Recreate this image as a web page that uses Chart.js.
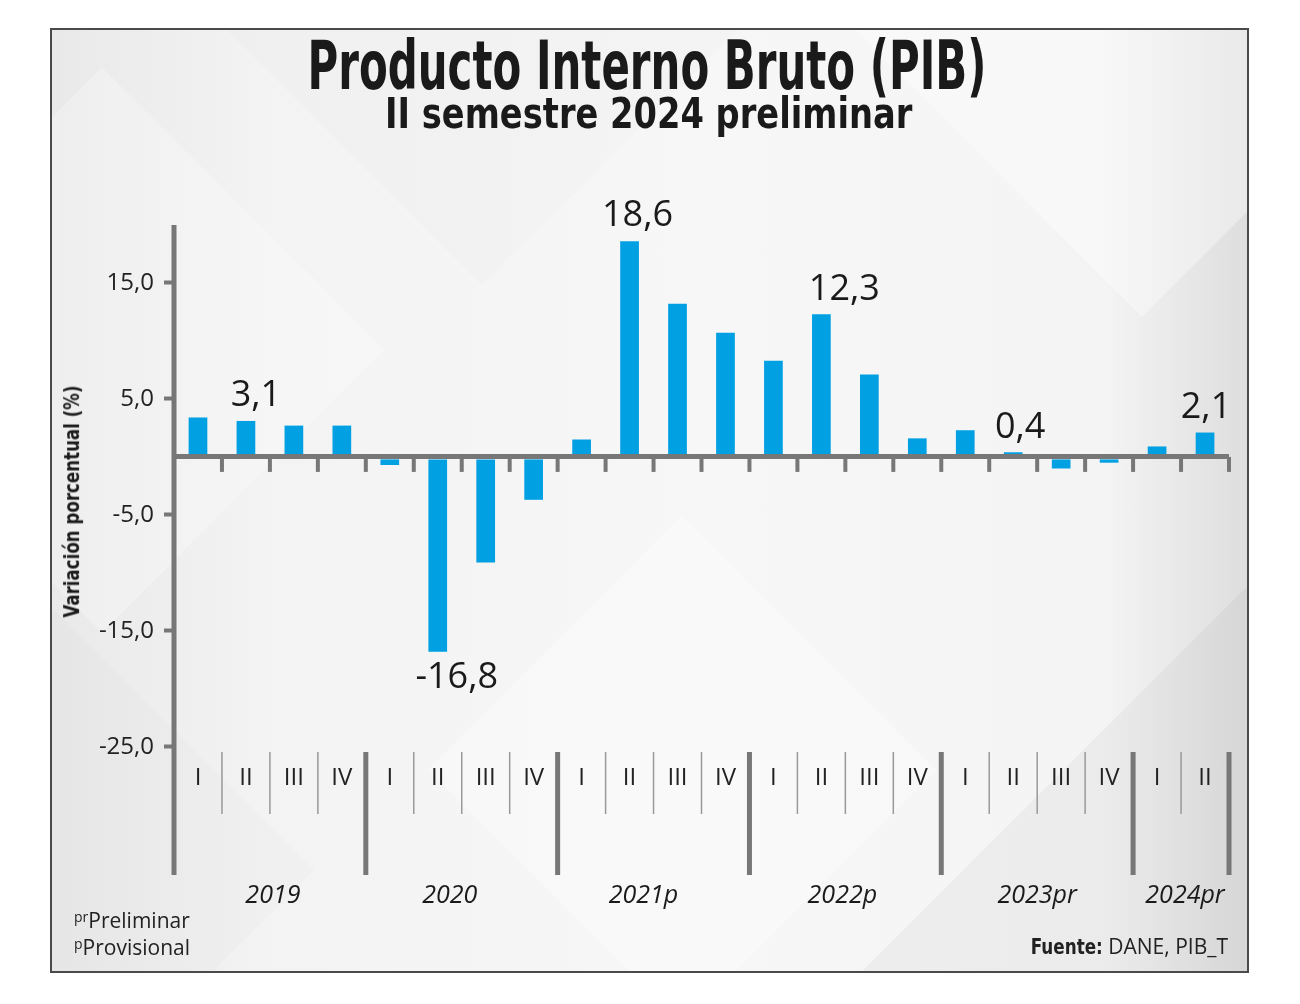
<!DOCTYPE html>
<html lang="es">
<head>
<meta charset="utf-8">
<title>PIB II semestre 2024</title>
<script src="https://cdn.jsdelivr.net/npm/chart.js@4.4.1/dist/chart.umd.min.js"></script>
<style>
  body { margin: 0; background: #fff; }
  #wrap { position: relative; width: 1300px; height: 1004px; overflow: hidden; }
  #marco {
    position: absolute; left: 50px; top: 28px; width: 1195px; height: 941px;
    border: 2px solid #4a4a4a; overflow: hidden;
    background:
      linear-gradient(135deg, rgba(255,255,255,0) 82%, rgba(0,0,0,0.035) 82%),
      linear-gradient(90deg, #e9e9e9 0%, #f3f3f3 18%, #f7f7f7 55%, #f4f4f4 88%, #dedede 100%);
  }
  .rombo { position: absolute; transform: rotate(45deg); }
  #lienzo { position: absolute; left: 0; top: 0; }
  .ajustado { position: absolute; white-space: nowrap; transform-origin: 50% 50%;
    font-family: "DejaVu Sans Condensed", "Liberation Sans", sans-serif; font-weight: bold; color: #1a1a1a; }
  .nota { position: absolute; font-family: "Open Sans", "Noto Sans", sans-serif; font-size: 21px; color: #222; white-space: nowrap; line-height: 1; }
  .nota sup { font-size: 14px; vertical-align: 6px; }
</style>
</head>
<body>
<div id="wrap">
  <div id="marco">
    <div class="rombo" style="left:-150px;top:120px;width:400px;height:400px;background:rgba(255,255,255,0.25)"></div>
    <div class="rombo" style="left:200px;top:-300px;width:460px;height:460px;background:rgba(0,0,0,0.012)"></div>
    <div class="rombo" style="left:450px;top:560px;width:360px;height:360px;background:rgba(255,255,255,0.3)"></div>
    <div class="rombo" style="left:880px;top:-220px;width:420px;height:420px;background:rgba(255,255,255,0.35)"></div>
    <div class="rombo" style="left:-220px;top:640px;width:400px;height:400px;background:rgba(0,0,0,0.012)"></div>
  </div>
  <canvas id="lienzo" width="1300" height="1004"></canvas>
  <div id="titulo" class="ajustado" style="font-size:67px;line-height:67px;top:33px;">Producto Interno Bruto (PIB)</div>
  <div id="subtitulo" class="ajustado" style="font-size:43px;line-height:43px;top:92px;">II semestre 2024 preliminar</div>
  <div id="ejeY" class="ajustado" style="font-size:21px;line-height:21px;">Variación porcentual (%)</div>
  <div class="nota" style="left:74px;top:910px;"><sup>pr</sup>Preliminar</div>
  <div class="nota" style="left:74px;top:937px;"><sup>p</sup>Provisional</div>
  <div class="nota" style="right:72px;top:936px;"><b style="font-family:'DejaVu Sans Condensed',sans-serif;font-size:22px;display:inline-block;transform:scaleX(0.85);transform-origin:100% 50%;margin-left:-12px;">Fuente:</b> DANE, PIB_T</div>
</div>

<script>
// ====== Datos: variación anual del PIB por trimestre (%) ======
const trimestres = ['I','II','III','IV', 'I','II','III','IV', 'I','II','III','IV',
                    'I','II','III','IV', 'I','II','III','IV', 'I','II'];
const anios = ['2019', '2020', '2021p', '2022p', '2023pr', '2024pr'];
const trimestresPorAnio = [4, 4, 4, 4, 4, 2];
const variacion = [3.4, 3.1, 2.7, 2.7,
                   -0.7, -16.8, -9.1, -3.7,
                   1.5, 18.6, 13.2, 10.7,
                   8.3, 12.3, 7.1, 1.6,
                   2.3, 0.4, -1.0, -0.5,
                   0.9, 2.1];
const ticksY = [-25, -15, -5, 0, 5, 15];

// ajusta un texto html al ancho medido en la imagen
function ajustar(id, cx, ancho, rot) {
  const el = document.getElementById(id);
  el.style.left = '0px';
  const w = el.offsetWidth;
  const s = ancho / w;
  el.style.left = (cx - w / 2) + 'px';
  el.style.transform = (rot ? 'rotate(-90deg) ' : '') + 'scaleX(' + s + ')';
  return el;
}
ajustar('titulo', 647, 679);
ajustar('subtitulo', 648, 527);
const ey = ajustar('ejeY', 72, 232, true);
ey.style.top = (501 - ey.offsetHeight / 2) + 'px';

const formato = v => v.toFixed(1).replace('.', ',');

const decorPib = {
  id: 'decorPib',
  afterDraw(chart, args, opts) {
    const { ctx, chartArea: a, scales: { x, y } } = chart;
    const n = trimestres.length;
    const mitad = (x.getPixelForValue(1) - x.getPixelForValue(0)) / 2;
    const borde = i => x.getPixelForValue(i) - mitad;
    const y0 = y.getPixelForValue(0);
    const linea = (x1, y1, x2, y2) => { ctx.beginPath(); ctx.moveTo(x1, y1); ctx.lineTo(x2, y2); ctx.stroke(); };

    ctx.save();
    ctx.strokeStyle = '#777';
    // eje vertical
    ctx.lineWidth = 5;
    linea(a.left, a.top, a.left, a.bottom + 3);
    // marcas bajo la línea de cero
    ctx.lineWidth = 4;
    for (let i = 1; i <= n; i++) linea(borde(i), y0, borde(i), y0 + 15);

    // separadores de años y trimestres
    const limites = [];
    let acum = 0;
    trimestresPorAnio.forEach(c => { acum += c; limites.push(acum); });
    const sTop = a.bottom - 120;
    for (let i = 1; i <= n; i++) {
      if (limites.includes(i)) {
        ctx.strokeStyle = '#777'; ctx.lineWidth = 5;
        linea(borde(i), sTop, borde(i), a.bottom + 3);
      } else {
        ctx.strokeStyle = '#999'; ctx.lineWidth = 1.5;
        linea(borde(i), sTop, borde(i), a.bottom - 58);
      }
    }

    // números romanos
    ctx.fillStyle = '#222';
    ctx.font = '24px "Open Sans", "Noto Sans", sans-serif';
    ctx.textAlign = 'center';
    ctx.textBaseline = 'middle';
    trimestres.forEach((t, i) => ctx.fillText(t, x.getPixelForValue(i), a.bottom - 94));

    // años
    ctx.fillStyle = '#1a1a1a';
    ctx.font = 'italic 25px "Open Sans", "Noto Sans", sans-serif';
    let ini = 0;
    anios.forEach((an, k) => {
      const fin = ini + trimestresPorAnio[k];
      ctx.fillText(an, (borde(ini) + borde(fin)) / 2 + (opts.desplazaAnio[k] || 0), a.bottom + 24);
      ini = fin;
    });

    // etiquetas de los segundos trimestres
    const barras = chart.getDatasetMeta(0).data;
    ctx.fillStyle = '#1a1a1a';
    ctx.font = '36px "Open Sans", "Noto Sans", sans-serif';
    let k = 0;
    variacion.forEach((v, i) => {
      if (trimestres[i] !== 'II') return;
      const b = barras[i];
      const dx = opts.desplaza[k++] || 0;
      ctx.fillText(formato(v), b.x + dx, v >= 0 ? b.y - 25 : b.y + 26);
    });
    ctx.restore();
  }
};

new Chart(document.getElementById('lienzo'), {
  type: 'bar',
  data: {
    labels: trimestres,
    datasets: [{
      data: variacion,
      backgroundColor: '#00a0e3',
      borderWidth: 0,
      barPercentage: 0.39,
      categoryPercentage: 1
    }]
  },
  options: {
    responsive: false,
    animation: false,
    devicePixelRatio: 1,
    layout: { padding: { left: 0, top: 225, right: 71, bottom: 132 } },
    plugins: {
      legend: { display: false },
      tooltip: { enabled: false },
      decorPib: {
        desplaza: [10, 19, 8, 23, 7, 1],
        desplazaAnio: [3, -12, -10, -3, 0, 4]
      }
    },
    scales: {
      x: { display: false },
      y: {
        min: -35.8,
        max: 20,
        afterBuildTicks: s => { s.ticks = ticksY.map(v => ({ value: v })); },
        afterFit: s => { s.width = 174; },
        border: { display: false },
        grid: {
          z: 1,
          color: c => (c.tick && c.tick.value === 0 ? '#777' : 'rgba(0,0,0,0)'),
          lineWidth: 5,
          tickColor: c => (c.tick && c.tick.value === 0 ? 'rgba(0,0,0,0)' : '#777'),
          tickWidth: 4,
          tickLength: 10
        },
        ticks: {
          padding: 10,
          color: '#222',
          font: { family: '"Open Sans", "Noto Sans", sans-serif', size: 24 },
          callback: v => (v === 0 ? '' : formato(v))
        }
      }
    }
  },
  plugins: [decorPib]
});
</script>
</body>
</html>
